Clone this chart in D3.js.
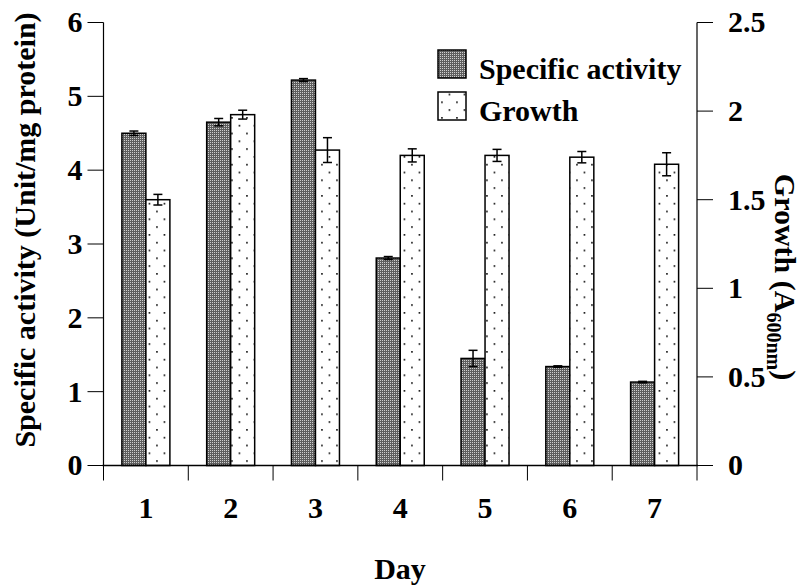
<!DOCTYPE html>
<html><head><meta charset="utf-8">
<script src="https://cdn.jsdelivr.net/npm/d3@7"></script>
<style>body{margin:0;background:#fff}svg{display:block}text{font-family:"Liberation Serif","Times New Roman",serif;font-weight:bold;fill:#000}</style>
</head><body><svg id="c" width="803" height="586"></svg>
<script>
const days = ["1","2","3","4","5","6","7"];
const activity = [4.50, 4.65, 5.22, 2.81, 1.45, 1.34, 1.13];
const activityErr = [0.03, 0.05, 0.02, 0.02, 0.11, 0.01, 0.01];
const growth = [1.50, 1.98, 1.78, 1.75, 1.75, 1.74, 1.70];
const growthErr = [0.03, 0.025, 0.07, 0.037, 0.034, 0.032, 0.065];
const leftTicks = [0,1,2,3,4,5,6];
const rightTicks = [0,0.5,1,1.5,2,2.5];
const seriesNames = ["Specific activity","Growth"];

const svg = d3.select("#c");
const L=103.5, R=697, T=22.5, B=465.5;
const FS = 30;
const defs = svg.append("defs");
const p1 = defs.append("pattern").attr("id","dark").attr("patternUnits","userSpaceOnUse").attr("width",2).attr("height",2);
p1.append("rect").attr("width",2).attr("height",2).attr("fill","#5e5e5e");
p1.append("rect").attr("x",0).attr("y",0).attr("width",1).attr("height",1).attr("fill","#cfcfcf");
const p2 = defs.append("pattern").attr("id","dots").attr("patternUnits","userSpaceOnUse").attr("width",15).attr("height",15.6).attr("x",146).attr("y",0);
p2.append("rect").attr("width",15).attr("height",15.6).attr("fill","#fff");
p2.append("rect").attr("x",2.6).attr("y",0).attr("width",1.7).attr("height",1.7).attr("fill","#222");
p2.append("rect").attr("x",10.1).attr("y",7.8).attr("width",1.7).attr("height",1.7).attr("fill","#222");

const x0 = d3.scaleBand().domain(days).range([L,R]).padding(0);
const x1 = d3.scaleBand().domain(seriesNames).range([0,48]);
const yL = d3.scaleLinear().domain([0,6]).range([B,T]);
const yR = d3.scaleLinear().domain([0,2.5]).range([B,T]);
const off = (x0.bandwidth()-48)/2;

const g = svg.append("g");
days.forEach((d,i)=>{
  const xa = x0(d)+off+x1("Specific activity");
  const xg = x0(d)+off+x1("Growth");
  g.append("rect").attr("x",xa).attr("y",yL(activity[i])).attr("width",x1.bandwidth()).attr("height",B-yL(activity[i]))
    .attr("fill","url(#dark)").attr("stroke","#000").attr("stroke-width",1.5);
  g.append("rect").attr("x",xg).attr("y",yR(growth[i])).attr("width",x1.bandwidth()).attr("height",B-yR(growth[i]))
    .attr("fill","url(#dots)").attr("stroke","#000").attr("stroke-width",1.5);
  const eb=(cx,y1,y2)=>{
    g.append("line").attr("x1",cx).attr("x2",cx).attr("y1",y1).attr("y2",y2).attr("stroke","#000").attr("stroke-width",1.5);
    [y1,y2].forEach(yy=>g.append("line").attr("x1",cx-4.5).attr("x2",cx+4.5).attr("y1",yy).attr("y2",yy).attr("stroke","#000").attr("stroke-width",1.5));
  };
  eb(xa+x1.bandwidth()/2, yL(activity[i]+activityErr[i]), yL(activity[i]-activityErr[i]));
  eb(xg+x1.bandwidth()/2, yR(growth[i]+growthErr[i]), yR(growth[i]-growthErr[i]));
});

// axes
const ax = svg.append("g");
ax.append("line").attr("x1",L).attr("x2",L).attr("y1",T).attr("y2",B).attr("stroke","#000").attr("stroke-width",1.2);
ax.append("line").attr("x1",R).attr("x2",R).attr("y1",T).attr("y2",B).attr("stroke","#000").attr("stroke-width",1.2);
ax.append("line").attr("x1",L-1).attr("x2",R+1).attr("y1",B).attr("y2",B).attr("stroke","#000").attr("stroke-width",1.5);
leftTicks.forEach(v=>{
  ax.append("line").attr("x1",L-16).attr("x2",L).attr("y1",yL(v)).attr("y2",yL(v)).attr("stroke","#000").attr("stroke-width",1);
  ax.append("text").attr("x",L-21).attr("y",yL(v)).attr("dy","0.33em").attr("text-anchor","end").attr("font-size",FS).text(v);
});
rightTicks.forEach(v=>{
  ax.append("line").attr("x1",R).attr("x2",R+16).attr("y1",yR(v)).attr("y2",yR(v)).attr("stroke","#000").attr("stroke-width",1);
  ax.append("text").attr("x",R+31).attr("y",yR(v)).attr("dy","0.33em").attr("text-anchor","start").attr("font-size",FS).text(v);
});
d3.range(days.length+1).forEach(i=>{
  const xx = L + i*x0.bandwidth();
  ax.append("line").attr("x1",xx).attr("x2",xx).attr("y1",B).attr("y2",B+15).attr("stroke","#000").attr("stroke-width",1);
});
days.forEach(d=>{
  ax.append("text").attr("x",x0(d)+x0.bandwidth()/2).attr("y",518).attr("text-anchor","middle").attr("font-size",FS).text(d);
});
svg.append("text").attr("x",400).attr("y",579).attr("text-anchor","middle").attr("font-size",FS).text("Day");
svg.append("text").attr("transform","translate(35,230) rotate(-90)").attr("text-anchor","middle").attr("font-size",FS).text("Specific activity (Unit/mg protein)");
const rt = svg.append("text").attr("transform","translate(775,277) rotate(90)").attr("text-anchor","middle").attr("font-size",FS);
rt.append("tspan").text("Growth (A");
rt.append("tspan").attr("font-size",20).attr("dy",8).text("600nm");
rt.append("tspan").attr("dy",-8).text(")");

// legend
const lg = svg.append("g");
lg.append("rect").attr("x",438).attr("y",50).attr("width",28).attr("height",28).attr("fill","url(#dark)").attr("stroke","#000").attr("stroke-width",1.5);
lg.append("rect").attr("x",438).attr("y",92).attr("width",28).attr("height",28).attr("fill","url(#dots)").attr("stroke","#000").attr("stroke-width",1.5);
lg.append("text").attr("x",479).attr("y",79).attr("font-size",FS).text(seriesNames[0]);
lg.append("text").attr("x",479).attr("y",121).attr("font-size",FS).text(seriesNames[1]);
</script></body></html>
